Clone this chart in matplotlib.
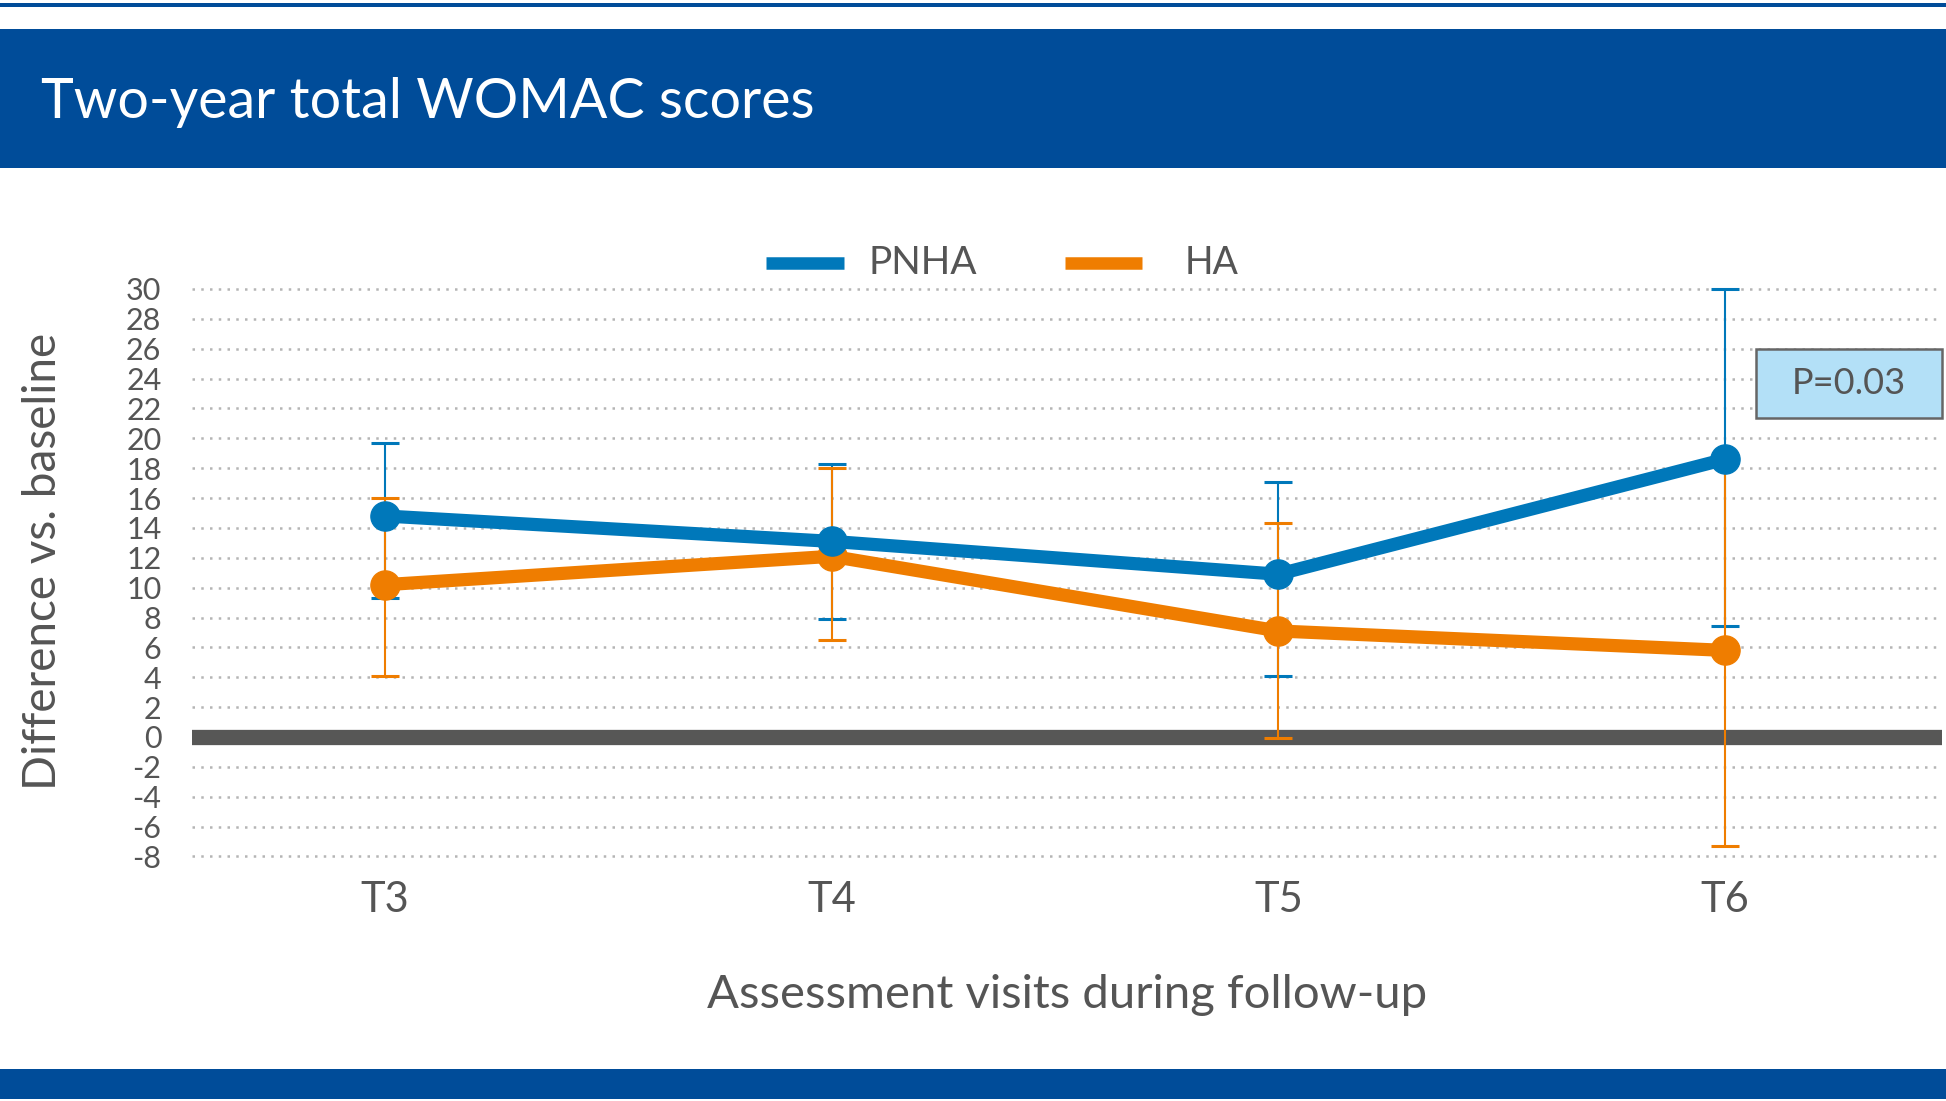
"""
Two-year total WOMAC scores: diferencia vs. baseline (PNHA vs HA).
"""
import matplotlib
matplotlib.use("Agg")
import matplotlib.pyplot as plt
from matplotlib.patches import Rectangle
import numpy as np

# ── Datos ─────────────────────────────────────────────────────────────────────
visitas   = ["T3", "T4", "T5", "T6"]
pnha_mean = [14.8, 13.1, 10.9, 18.6]
pnha_low  = [9.3, 7.9, 4.1, 7.4]
pnha_high = [19.7, 18.3, 17.1, 30.0]
ha_mean   = [10.2, 12.1, 7.1, 5.8]
ha_low    = [4.1, 6.5, -0.1, -7.3]
ha_high   = [16.0, 18.0, 14.3, 18.7]
y_ticks   = list(range(-8, 31, 2))

# ── Tema ──────────────────────────────────────────────────────────────────────
BLUE   = "#0078BA"
ORANGE = "#EF7D00"
HEADER = "#004C99"
TEXT   = "#555555"
ZERO   = "#575756"
GRID   = "#b5b5b5"
FONT   = "Lato"

W, H = 1946, 1101
fig = plt.figure(figsize=(W / 100, H / 100), dpi=100)
fig.patch.set_facecolor("white")


def band(y0, y1, color):
    """Rectángulo a todo el ancho, coordenadas en píxeles desde arriba."""
    fig.add_artist(Rectangle((0, 1 - y1 / H), 1, (y1 - y0) / H,
                             transform=fig.transFigure, facecolor=color,
                             edgecolor="none", zorder=0))


band(3, 7, HEADER)
band(29, 168, HEADER)
band(1069, 1099, HEADER)
fig.text(41 / W, 1 - 102 / H, "Two-year total WOMAC scores", color="white",
         fontsize=40, family=FONT, va="center", ha="left")

# ── Ejes ──────────────────────────────────────────────────────────────────────
left, right = 192, 1942
top, bottom = 270, 870
ax = fig.add_axes([left / W, 1 - bottom / H, (right - left) / W, (bottom - top) / H])
x = np.arange(len(visitas))

# y: 30 -> 289 px, 0 -> 737 px
ppu = (737 - 289) / 30
ax.set_ylim(-(bottom - 737) / ppu, (737 - top) / ppu)
xppu = (1725 - 385) / 3
ax.set_xlim(-(385 - left) / xppu, 3 + (right - 1725) / xppu)

for t in y_ticks:
    if t != 0:
        ax.axhline(t, color=GRID, linestyle=(0, (1, 2.5)), linewidth=1.8, zorder=1)
ax.axhline(0, color=ZERO, linewidth=11, zorder=2)

pm, hm = np.array(pnha_mean), np.array(ha_mean)
ax.errorbar(x, pm, yerr=[pm - np.array(pnha_low), np.array(pnha_high) - pm],
            fmt="none", ecolor=BLUE, elinewidth=1.5, capsize=10, capthick=2.2, zorder=3)
ax.errorbar(x, hm, yerr=[hm - np.array(ha_low), np.array(ha_high) - hm],
            fmt="none", ecolor=ORANGE, elinewidth=1.5, capsize=10, capthick=2.2, zorder=3)

ax.plot(x, pm, color=BLUE, linewidth=9.5, marker="o", markersize=21, zorder=5)
ax.plot(x, hm, color=ORANGE, linewidth=9.5, marker="o", markersize=21, zorder=4)

ax.set_yticks(y_ticks)
ax.set_yticklabels([str(t) for t in y_ticks], family=FONT, fontsize=22, color=TEXT)
ax.set_xticks(x)
ax.set_xticklabels(visitas, family=FONT, fontsize=30, color=TEXT)
ax.tick_params(axis="y", length=0, pad=22)
ax.tick_params(axis="x", length=0, pad=8)
for s in ax.spines.values():
    s.set_visible(False)

fig.text(1067 / W, 1 - 995 / H, "Assessment visits during follow-up",
         family=FONT, fontsize=34, color=TEXT, ha="center", va="center")
fig.text(43 / W, 1 - 561 / H, "Difference vs. baseline", family=FONT,
         fontsize=33, color=TEXT, ha="center", va="center", rotation=90)

# ── Leyenda ───────────────────────────────────────────────────────────────────
ly = 1 - 263 / H
fig.add_artist(plt.Line2D([766 / W, 844 / W], [ly, ly], color=BLUE, linewidth=9,
                          solid_capstyle="butt", transform=fig.transFigure))
fig.text(869 / W, ly, "PNHA", family=FONT, fontsize=28, color=TEXT, va="center")
fig.add_artist(plt.Line2D([1065 / W, 1142 / W], [ly, ly], color=ORANGE, linewidth=9,
                          solid_capstyle="butt", transform=fig.transFigure))
fig.text(1185 / W, ly, "HA", family=FONT, fontsize=27, color=TEXT, va="center")

# ── Caja P ────────────────────────────────────────────────────────────────────
fig.add_artist(Rectangle((1756 / W, 1 - 418 / H), (1942 - 1756) / W, (418 - 349) / H,
                         transform=fig.transFigure, facecolor="#B3E0F7",
                         edgecolor="#666666", linewidth=1.8, zorder=6))
fig.text(1849 / W, 1 - 384 / H, "P=0.03", family=FONT, fontsize=26, color=TEXT,
         ha="center", va="center", zorder=7)

fig.savefig("out.png", dpi=100)
